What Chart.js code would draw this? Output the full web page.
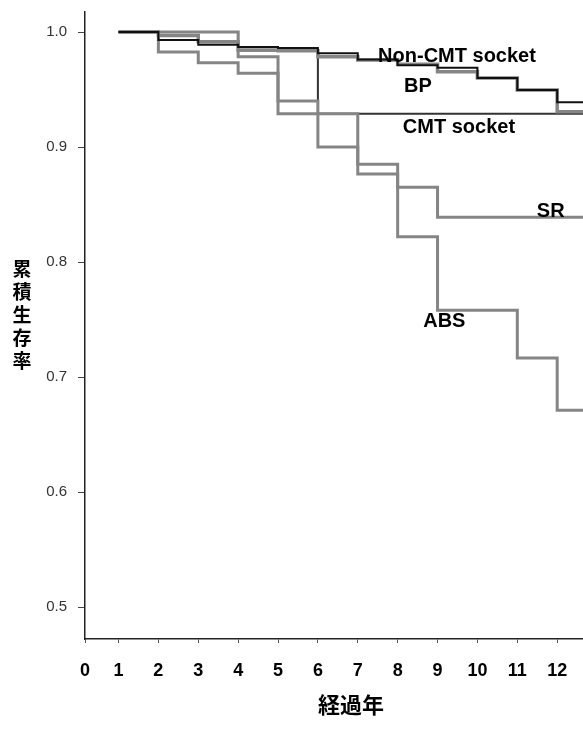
<!DOCTYPE html>
<html lang="ja">
<head>
<meta charset="utf-8">
<title>累積生存率</title>
<script src="https://cdn.jsdelivr.net/npm/chart.js@4"></script>
<style>
    html, body { margin: 0; padding: 0; background: #fff; overflow: hidden; }
    #wrap { width: 621px; height: 739px; }
</style>
</head>
<body>
<div id="wrap"><canvas id="survivalChart" width="621" height="739"></canvas></div>
<script>
// 経過年ごとの累積生存率 (各年の値はその年以降に保たれる)
const years = [1, 2, 3, 4, 5, 6, 7, 8, 9, 10, 11, 12];
const lastYear = 13.5;

const nonCmtSocket = [1.0, 0.993, 0.989, 0.987, 0.986, 0.9815, 0.976, 0.971, 0.969, 0.960, 0.9496, 0.939];
const cmtSocket = [1.0, 1.0, 1.0, 0.984, 0.984, 0.929, 0.929, 0.929, 0.929, 0.929, 0.929, 0.929];
const bp = [1.0, 0.997, 0.9916, 0.9843, 0.9837, 0.9785, 0.9757, 0.972, 0.9655, 0.960, 0.9496, 0.9307];
const sr = [1.0, 0.9826, 0.9733, 0.9641, 0.929, 0.929, 0.885, 0.865, 0.839, 0.839, 0.839, 0.839];
const abs = [1.0, 1.0, 1.0, 0.9785, 0.94, 0.90, 0.8765, 0.822, 0.758, 0.758, 0.7165, 0.671];

const xTicks = [0, 1, 2, 3, 4, 5, 6, 7, 8, 9, 10, 11, 12];
const yTicks = [0.5, 0.6, 0.7, 0.8, 0.9, 1.0];

// curve names written beside the lines
const curveLabels = ["Non-CMT socket", "BP", "CMT socket", "SR", "ABS"];
const labelYears = [7.51, 8.16, 8.13, 11.49, 8.64];
const labelValues = [0.9739, 0.9478, 0.9122, 0.8391, 0.7435];

const yTitle = "累積生存率";

function steps(values) {
    const pts = years.map((yr, i) => ({ x: yr, y: values[i] }));
    pts.push({ x: lastYear, y: values[values.length - 1] });
    return pts;
}

const black = "#111";
const gray = "#858585";

function series(label, values, color, width) {
    return {
        label: label,
        data: steps(values),
        borderColor: color,
        borderWidth: width,
        stepped: "before",
        pointRadius: 0,
        fill: false,
        borderJoinStyle: "miter",
        borderCapStyle: "butt"
    };
}

const textPlugin = {
    id: "curveText",
    afterDatasetsDraw(chart) {
        const { ctx, scales } = chart;
        ctx.save();
        ctx.fillStyle = "#000";
        ctx.font = "bold 20px 'Liberation Sans', Arial, sans-serif";
        ctx.textAlign = "left";
        ctx.textBaseline = "alphabetic";
        curveLabels.forEach((t, i) => {
            ctx.fillText(t, scales.x.getPixelForValue(labelYears[i]), scales.y.getPixelForValue(labelValues[i]));
        });

        // 縦書きの軸タイトル
        ctx.font = "bold 19px 'Noto Sans CJK JP', sans-serif";
        ctx.textAlign = "center";
        ctx.textBaseline = "middle";
        [...yTitle].forEach((c, i) => ctx.fillText(c, 22, 269 + i * 23));
        ctx.restore();
    }
};

Chart.defaults.font.family = "'Liberation Sans', Arial, sans-serif";
Chart.defaults.color = "#000";

// first dataset is painted last, so the black Non-CMT line sits on top
new Chart(document.getElementById("survivalChart"), {
    type: "line",
    data: {
        datasets: [
            series("Non-CMT socket", nonCmtSocket, black, 2),
            series("BP", bp, gray, 3.5),
            series("ABS", abs, gray, 3),
            series("SR", sr, gray, 3),
            series("CMT socket", cmtSocket, "#333", 2)
        ]
    },
    options: {
        responsive: false,
        animation: false,
        devicePixelRatio: 1,
        layout: { padding: { left: 0, right: 4, top: 12, bottom: 0 } },
        plugins: {
            legend: { display: false },
            tooltip: { enabled: false }
        },
        scales: {
            x: {
                type: "linear",
                min: 0.16,
                max: lastYear,
                afterBuildTicks: s => { s.ticks = xTicks.map(v => ({ value: Math.max(v, s.min) })); },
                afterFit: s => {
                    s.height = 100;
                    s.paddingLeft = 0;
                    s.paddingRight = 0;
                },
                ticks: {
                    autoSkip: false,
                    maxRotation: 0,
                    padding: 17,
                    color: "#000",
                    font: { family: "'Liberation Sans Narrow', 'Liberation Sans', sans-serif", size: 18, weight: "bold" },
                    callback: (v, i) => String(xTicks[i])
                },
                grid: { drawOnChartArea: false, drawTicks: true, tickLength: 4, color: "#555" },
                border: { display: true, color: "#222", width: 1.5 },
                title: {
                    display: true,
                    text: "経過年",
                    color: "#000",
                    padding: { top: 0, bottom: 21 },
                    font: { family: "'Noto Sans CJK JP', sans-serif", size: 22, weight: "bold" }
                }
            },
            y: {
                min: 0.4722,
                max: 1.0174,
                afterBuildTicks: s => { s.ticks = yTicks.map(v => ({ value: v })); },
                afterFit: s => {
                    s.width = 85;
                    s.paddingTop = 0;
                    s.paddingBottom = 0;
                },
                ticks: {
                    padding: 11,
                    color: "#333",
                    font: { size: 15 },
                    callback: v => v.toFixed(1)
                },
                grid: { drawOnChartArea: false, drawTicks: true, tickLength: 7, color: "#444" },
                border: { display: true, color: "#222", width: 1.5 }
            }
        }
    },
    plugins: [textPlugin]
});
</script>
</body>
</html>
